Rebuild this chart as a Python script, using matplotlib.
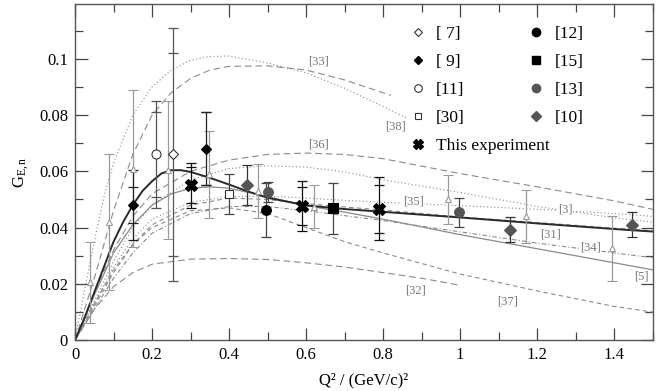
import matplotlib
matplotlib.use("Agg")
import matplotlib.pyplot as plt
from matplotlib.lines import Line2D
from matplotlib.ticker import MultipleLocator, FuncFormatter

# measured points: (Q2, G_En, total error, stat error)
ref7_x = [0.255]
ref7_y = [0.066]
ref7_err = [0.045]
ref7_stat = [0.036]

ref9_x = [0.15, 0.34]
ref9_y = [0.048, 0.068]
ref9_err = [0.0125, 0.013]
ref9_stat = [0.0065, 0.013]

ref11_x = [0.21]
ref11_y = [0.066]
ref11_err = [0.019]
ref11_stat = [0.015]

ref30_x = [0.40]
ref30_y = [0.052]
ref30_err = [0.007]

this_x = [0.30, 0.59, 0.79]
this_y = [0.0551, 0.0476, 0.0467]
this_err = [0.008, 0.0088, 0.0112]
this_stat = [0.0065, 0.0068, 0.0085]

ref12_x = [0.495]
ref12_y = [0.0462]
ref12_err = [0.0095]

ref15_x = [0.669]
ref15_y = [0.0468]
ref15_err = [0.009]

ref13_x = [0.50, 0.997]
ref13_y = [0.0526, 0.0454]
ref13_err = [0.0036, 0.0052]

ref10_x = [0.446, 1.13, 1.447]
ref10_y = [0.0551, 0.0393, 0.0411]
ref10_err = [0.007, 0.0043, 0.0045]

tri_x = [0.039, 0.088, 0.15, 0.242, 0.348, 0.475, 0.62, 0.968, 1.17, 1.395]
tri_y = [0.0205, 0.042, 0.061, 0.0604, 0.059, 0.053, 0.0475, 0.050, 0.044, 0.0326]
tri_err = [0.0143, 0.024, 0.028, 0.0245, 0.0155, 0.0095, 0.0075, 0.0088, 0.0095, 0.0115]

# curves
fit_x = [0, 0.025, 0.05, 0.075, 0.1, 0.125, 0.15, 0.175, 0.2, 0.225, 0.25, 0.275,
         0.3, 0.35, 0.4, 0.45, 0.5, 0.6, 0.7, 0.8, 0.9, 1.0, 1.2, 1.4, 1.5]
fit_y = [0, 0.008, 0.017, 0.026, 0.035, 0.042, 0.048, 0.053, 0.0565, 0.0593, 0.0604, 0.0604,
         0.0598, 0.0577, 0.0553, 0.0528, 0.0506, 0.0479, 0.0466, 0.0456, 0.0446, 0.0436,
         0.0415, 0.0395, 0.0386]

c5_x = [0, 0.05, 0.1, 0.15, 0.2, 0.25, 0.3, 0.35, 0.4, 0.5, 0.6, 0.7, 0.8, 1.0, 1.2, 1.4, 1.5]
c5_y = [0, 0.016, 0.031, 0.041, 0.048, 0.052, 0.054, 0.0545, 0.054, 0.051, 0.0478,
        0.0455, 0.043, 0.0375, 0.0325, 0.0275, 0.025]

c38_x = [0, 0.025, 0.05, 0.075, 0.1, 0.15, 0.2, 0.25, 0.3, 0.35, 0.4, 0.5, 0.6, 0.7, 0.8, 0.86]
c38_y = [0, 0.018, 0.035, 0.051, 0.063, 0.080, 0.090, 0.096, 0.0995, 0.1008, 0.101,
         0.0985, 0.095, 0.0895, 0.083, 0.079]

c33_x = [0, 0.05, 0.1, 0.15, 0.2, 0.25, 0.3, 0.35, 0.4, 0.5, 0.6, 0.7, 0.82]
c33_y = [0, 0.022, 0.046, 0.066, 0.080, 0.088, 0.093, 0.096, 0.0973, 0.0975, 0.096, 0.0925, 0.087]

c36_x = [0, 0.05, 0.1, 0.15, 0.2, 0.3, 0.4, 0.5, 0.6, 0.7, 0.8, 1.0, 1.2, 1.4, 1.5]
c36_y = [0, 0.017, 0.032, 0.044, 0.052, 0.060, 0.064, 0.066, 0.0665, 0.066, 0.0645,
         0.0592, 0.0545, 0.0495, 0.0465]

c3_x = [0, 0.05, 0.1, 0.15, 0.2, 0.3, 0.4, 0.5, 0.6, 0.7, 0.8, 1.0, 1.2, 1.4, 1.5]
c3_y = [0, 0.014, 0.028, 0.040, 0.048, 0.057, 0.061, 0.062, 0.0615, 0.0598, 0.057,
        0.0525, 0.0475, 0.0435, 0.042]

c35_x = [0, 0.05, 0.1, 0.15, 0.2, 0.3, 0.4, 0.5, 0.6, 0.7, 0.8, 1.0, 1.2, 1.4, 1.5]
c35_y = [0, 0.013, 0.026, 0.036, 0.043, 0.049, 0.051, 0.0512, 0.0505, 0.0497, 0.049,
         0.0478, 0.0465, 0.045, 0.044]

c31_x = [0, 0.05, 0.1, 0.15, 0.2, 0.3, 0.4, 0.5, 0.6, 0.8, 1.0, 1.2, 1.4, 1.5]
c31_y = [0, 0.012, 0.024, 0.034, 0.041, 0.048, 0.0505, 0.050, 0.0485, 0.0462, 0.0438,
         0.0418, 0.0398, 0.0389]

c34_x = [0, 0.05, 0.1, 0.15, 0.2, 0.3, 0.4, 0.5, 0.6, 0.8, 1.0, 1.2, 1.4, 1.5]
c34_y = [0, 0.011, 0.022, 0.031, 0.038, 0.045, 0.0475, 0.0475, 0.046, 0.0425, 0.0385,
         0.0345, 0.031, 0.0293]

c37_x = [0, 0.05, 0.1, 0.15, 0.2, 0.3, 0.4, 0.5, 0.6, 0.7, 0.8, 1.0, 1.2, 1.4, 1.5]
c37_y = [0, 0.013, 0.025, 0.034, 0.040, 0.046, 0.047, 0.045, 0.040, 0.035, 0.031,
         0.0235, 0.0175, 0.012, 0.010]

c32_x = [0, 0.05, 0.1, 0.15, 0.2, 0.3, 0.4, 0.5, 0.6, 0.7, 0.8, 0.9, 1.0]
c32_y = [0, 0.011, 0.019, 0.024, 0.027, 0.0288, 0.029, 0.0287, 0.0275, 0.026, 0.024,
         0.022, 0.0195]

curve_labels = ["[33]", "[38]", "[36]", "[35]", "[3]", "[31]", "[34]", "[5]", "[32]", "[37]"]
label_pos = [(0.631, 0.0989), (0.831, 0.0761), (0.631, 0.0696), (0.878, 0.0493),
             (1.273, 0.0464), (1.234, 0.0375), (1.338, 0.0329), (1.47, 0.0225),
             (0.883, 0.0175), (1.122, 0.0136)]

plt.rcParams["font.family"] = ["Liberation Serif", "DejaVu Serif"]
plt.rcParams["mathtext.fontset"] = "custom"
plt.rcParams["mathtext.rm"] = "Liberation Serif"
plt.rcParams["mathtext.it"] = "Liberation Serif:italic"

fig = plt.figure(figsize=(6.64, 3.91), dpi=100)
ax = fig.add_axes([0.113, 0.130, 0.870, 0.860])

grey = "#8a8a8a"
dotted = (0, (1, 2.2))
dashed = (0, (4, 3))
longdash = (0, (6, 3.5))
dashdot = (0, (4, 2, 1, 2))

ax.plot(c38_x, c38_y, color=grey, lw=0.8, ls=dotted)
ax.plot(c33_x, c33_y, color=grey, lw=0.8, ls=longdash)
ax.plot(c36_x, c36_y, color=grey, lw=0.8, ls=longdash)
ax.plot(c3_x, c3_y, color=grey, lw=0.8, ls=dotted)
ax.plot(c35_x, c35_y, color=grey, lw=0.8, ls=dotted)
ax.plot(c31_x, c31_y, color=grey, lw=0.8, ls=dashed)
ax.plot(c34_x, c34_y, color=grey, lw=0.8, ls=dashdot)
ax.plot(c37_x, c37_y, color=grey, lw=0.8, ls=dashed)
ax.plot(c32_x, c32_y, color=grey, lw=0.8, ls=longdash)
ax.plot(c5_x, c5_y, color=grey, lw=0.9, ls="-")
ax.plot(fit_x, fit_y, color="#2a2a2a", lw=1.4, ls="-")

for text, (lx, ly) in zip(curve_labels, label_pos):
    ax.text(lx, ly, text, color="#777777", fontsize=9, ha="center", va="center",
            bbox=dict(boxstyle="square,pad=0.05", fc="white", ec="none"))

# triangles (no legend entry)
ax.errorbar(tri_x, tri_y, yerr=tri_err, fmt="^", ms=5, mfc="white", mec="#999999",
            mew=0.8, ecolor="#9a9a9a", elinewidth=0.9, capsize=3.5, capthick=0.9)


def draw(xs, ys, err, stat, marker, ms, mfc, mec, ecolor):
    ax.errorbar(xs, ys, yerr=err, fmt="none", ecolor=ecolor, elinewidth=0.9,
                capsize=3.5, capthick=0.9)
    if stat is not None:
        ax.errorbar(xs, ys, yerr=stat, fmt="none", ecolor=ecolor, elinewidth=0,
                    capsize=3.5, capthick=0.9)
    ax.plot(xs, ys, ls="none", marker=marker, ms=ms, mfc=mfc, mec=mec, mew=0.8,
            zorder=5)


draw(ref7_x, ref7_y, ref7_err, ref7_stat, "D", 5.5, "white", "#333333", "#555555")
draw(ref9_x, ref9_y, ref9_err, ref9_stat, "D", 5.5, "black", "black", "#222222")
draw(ref11_x, ref11_y, ref11_err, ref11_stat, "o", 6.5, "white", "#333333", "#555555")
draw(ref30_x, ref30_y, ref30_err, None, "s", 6, "white", "#333333", "#444444")
draw(this_x, this_y, this_err, this_stat, "X", 8, "black", "black", "#111111")
draw(ref12_x, ref12_y, ref12_err, None, "o", 7, "black", "black", "#444444")
draw(ref15_x, ref15_y, ref15_err, None, "s", 6.5, "black", "black", "#444444")
draw(ref13_x, ref13_y, ref13_err, None, "o", 7, "#555555", "#555555", "#444444")
draw(ref10_x, ref10_y, ref10_err, None, "D", 6, "#555555", "#555555", "#333333")

left_handles = [
    Line2D([], [], ls="none", marker="D", ms=4.5, mfc="white", mec="#333333", mew=0.8),
    Line2D([], [], ls="none", marker="D", ms=4.5, mfc="black", mec="black"),
    Line2D([], [], ls="none", marker="o", ms=5.5, mfc="white", mec="#333333", mew=0.8),
    Line2D([], [], ls="none", marker="s", ms=5, mfc="white", mec="#333333", mew=0.8),
    Line2D([], [], ls="none", marker="X", ms=6.5, mfc="black", mec="black"),
]
left_labels = ["[ 7]", "[ 9]", "[11]", "[30]", "This experiment"]
right_handles = [
    Line2D([], [], ls="none", marker="o", ms=6, mfc="black", mec="black"),
    Line2D([], [], ls="none", marker="s", ms=5.5, mfc="black", mec="black"),
    Line2D([], [], ls="none", marker="o", ms=6, mfc="#555555", mec="#555555"),
    Line2D([], [], ls="none", marker="D", ms=5, mfc="#555555", mec="#555555"),
]
right_labels = ["[12]", "[15]", "[13]", "[10]"]

leg_kw = dict(loc="upper left", frameon=False, fontsize=12.5, handletextpad=0.45,
              handlelength=1.2, labelspacing=0.68, borderaxespad=0, borderpad=0)
leg1 = ax.legend(left_handles, left_labels, bbox_to_anchor=(0.575, 0.934), **leg_kw)
ax.add_artist(leg1)
ax.legend(right_handles, right_labels, bbox_to_anchor=(0.78, 0.934), **leg_kw)

ax.set_xlim(0, 1.5)
ax.set_ylim(0, 0.1195)
ax.xaxis.set_major_locator(MultipleLocator(0.2))
ax.xaxis.set_minor_locator(MultipleLocator(0.1))
ax.yaxis.set_major_locator(MultipleLocator(0.02))
ax.yaxis.set_minor_locator(MultipleLocator(0.01))
fmt = FuncFormatter(lambda v, p: "%g" % round(v, 4))
ax.xaxis.set_major_formatter(fmt)
ax.yaxis.set_major_formatter(fmt)
ax.tick_params(which="both", direction="in", top=True, right=True, labelsize=12,
               color="#444444", width=0.9)
ax.tick_params(which="major", length=9, pad=5)
ax.tick_params(which="minor", length=6)
for s in ax.spines.values():
    s.set_color("#555555")
    s.set_linewidth(1.0)

ax.set_xlabel("Q² / (GeV/c)²", fontsize=12, labelpad=7)
ax.set_ylabel(r"G$_{\rm E,n}$", fontsize=12, labelpad=6)

fig.savefig("out.png", dpi=100)
